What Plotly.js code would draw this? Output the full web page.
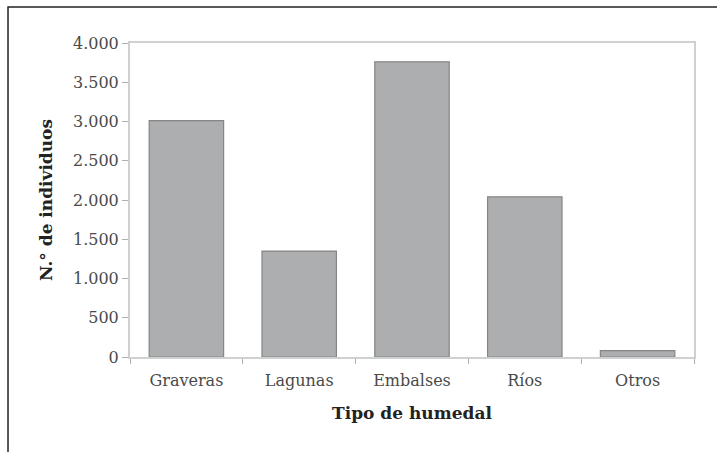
<!DOCTYPE html>
<html>
<head>
<meta charset="utf-8">
<script src="https://cdn.plot.ly/plotly-3.0.1.min.js"></script>
<style>
html,body{margin:0;padding:0;background:#fff;}
#chart{width:717px;height:452px;}
</style>
</head>
<body>
<div id="chart"></div>
<script>
var categories = ["Graveras", "Lagunas", "Embalses", "Ríos", "Otros"];
var individuos = [3010, 1350, 3760, 2040, 80];
var yTickVals = [0, 500, 1000, 1500, 2000, 2500, 3000, 3500, 4000];
var yTickText = ["0", "500", "1.000", "1.500", "2.000", "2.500", "3.000", "3.500", "4.000"];

var trace = {
  type: "bar",
  x: categories,
  y: individuos,
  marker: {color: "#adaeb0", line: {color: "#858585", width: 1.2}},
  hoverinfo: "skip"
};

var tickFont = {family: "DejaVu Serif, Liberation Serif, serif", size: 16, color: "#4a4a4a"};
var titleFont = {family: "DejaVu Serif, Liberation Serif, serif", size: 17, color: "#222", weight: "bold"};

var layout = {
  width: 717,
  height: 452,
  margin: {l: 130, r: 23, t: 43, b: 95},
  paper_bgcolor: "#fff",
  plot_bgcolor: "#fff",
  showlegend: false,
  bargap: 0.34,
  xaxis: {
    showline: true, linecolor: "#cfd0d0", linewidth: 2, mirror: true,
    ticks: "outside", tickson: "boundaries", ticklen: 5, tickcolor: "#b0b0b0", tickwidth: 1,
    tickfont: tickFont, ticklabelstandoff: 8,
    showgrid: false, zeroline: false,
    title: {text: "Tipo de humedal", font: titleFont, standoff: 18}
  },
  yaxis: {
    range: [0, 4000],
    tickvals: yTickVals, ticktext: yTickText,
    showline: true, linecolor: "#cfd0d0", linewidth: 2, mirror: true,
    ticks: "outside", ticklen: 6, tickcolor: "#b0b0b0", tickwidth: 1,
    tickfont: tickFont,
    showgrid: false, zeroline: false,
    title: {text: "N.° de individuos", font: titleFont, standoff: 16}
  },
  shapes: [{
    type: "rect", xref: "paper", yref: "paper",
    x0: -0.2163, x1: 1.06, y0: -0.33, y1: 1.1146,
    line: {color: "#222", width: 1.5}, fillcolor: "rgba(0,0,0,0)", layer: "above"
  }]
};

Plotly.newPlot("chart", [trace], layout, {displayModeBar: false, staticPlot: true});
</script>
</body>
</html>
